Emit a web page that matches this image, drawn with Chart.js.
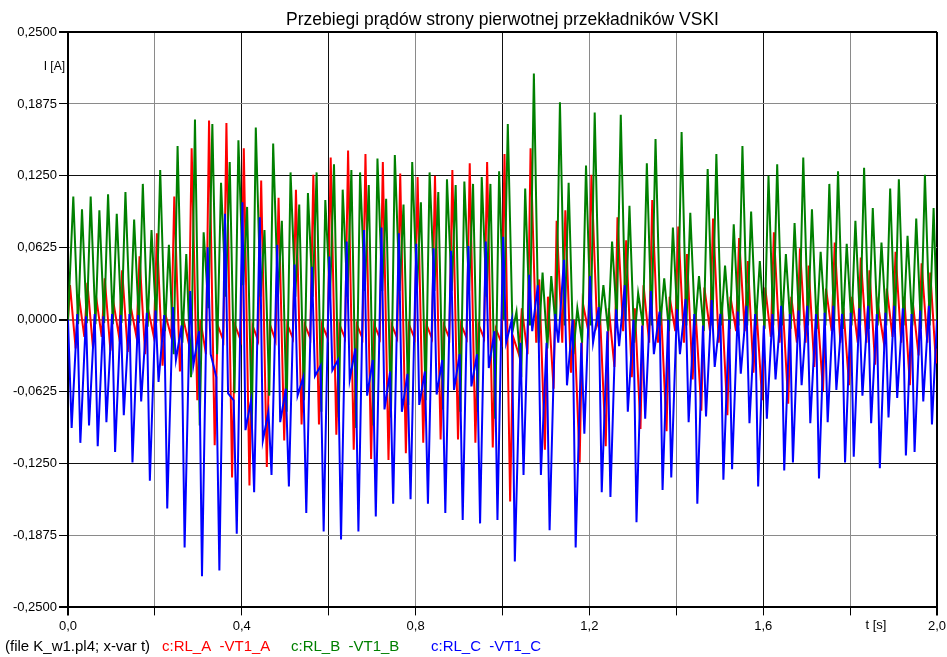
<!DOCTYPE html>
<html>
<head>
<meta charset="utf-8">
<script src="https://cdn.jsdelivr.net/npm/chart.js@4.4.0/dist/chart.umd.min.js"></script>
<style>
  html, body { margin: 0; padding: 0; background: #fff; }
  canvas { display: block; }
</style>
</head>
<body>
<canvas id="pradyChart" width="947" height="657"></canvas>
<script>
// one 50 Hz cycle, every series has one max and one min read per cycle
const period = 0.02;
const yTicks = [-0.25, -0.1875, -0.125, -0.0625, 0, 0.0625, 0.125, 0.1875, 0.25];
const xTicks = [0, 0.2, 0.4, 0.6, 0.8, 1.0, 1.2, 1.4, 1.6, 1.8, 2.0];

// c:RL_A -VT1_A (red)
const redHi = [
  0.030, 0.022, 0.032, 0.020, 0.036, 0.015, 0.043, 0.011, 0.055, 0.009,
  0.075, 0.004, 0.107, 0.002, 0.149, 0.000, 0.173, -0.005, 0.171, -0.005,
  0.149, -0.005, 0.121, -0.004, 0.106, -0.004, 0.113, -0.004, 0.126, -0.004,
  0.141, -0.004, 0.147, -0.004, 0.144, -0.004, 0.137, -0.004, 0.127, -0.004,
  0.124, -0.004, 0.125, -0.004, 0.130, -0.004, 0.136, -0.004, 0.137, -0.008,
  0.144, -0.015, 0.010, 0.149, 0.035, 0.020, 0.086, 0.095, 0.000, 0.015,
  0.126, 0.003, 0.010, 0.089, 0.069, 0.010, 0.030, 0.104, 0.010, 0.020,
  0.081, 0.057, 0.005, 0.028, 0.088, 0.015, 0.020, 0.071, 0.051, 0.008,
  0.028, 0.076, 0.015, 0.020, 0.062, 0.047, 0.010, 0.027, 0.067, 0.010,
  0.020, 0.054, 0.043, 0.012, 0.027, 0.059, 0.020, 0.014, 0.049, 0.041
];
const redLo = [
  -0.025, -0.015, -0.025, -0.015, -0.027, -0.015, -0.028, -0.015, -0.030, -0.015,
  -0.040, -0.015, -0.045, -0.020, -0.070, -0.030, -0.109, -0.018, -0.137, -0.018,
  -0.144, -0.018, -0.128, -0.018, -0.105, -0.016, -0.091, -0.016, -0.091, -0.016,
  -0.100, -0.016, -0.113, -0.016, -0.121, -0.016, -0.122, -0.016, -0.116, -0.016,
  -0.107, -0.016, -0.104, -0.016, -0.104, -0.016, -0.107, -0.016, -0.111, -0.020,
  -0.158, -0.030, -0.030, -0.020, -0.113, -0.060, -0.020, -0.046, -0.124, -0.010,
  -0.005, -0.110, -0.041, -0.010, -0.050, -0.095, -0.020, -0.020, -0.097, -0.010,
  -0.020, -0.052, -0.079, -0.010, -0.020, -0.083, -0.010, -0.010, -0.046, -0.070,
  -0.015, -0.020, -0.073, -0.020, -0.020, -0.041, -0.062, -0.010, -0.020, -0.057,
  -0.020, -0.020, -0.039, -0.020, -0.015, -0.020, -0.057, -0.031, -0.020, -0.038
];

// c:RL_B -VT1_B (green)
const greenHi = [
  0.107, 0.096, 0.107, 0.095, 0.109, 0.092, 0.111, 0.087, 0.118, 0.078,
  0.130, 0.065, 0.151, 0.057, 0.174, 0.076, 0.170, 0.119, 0.137, 0.156,
  0.098, 0.167, 0.078, 0.153, 0.086, 0.128, 0.100, 0.110, 0.128, 0.104,
  0.135, 0.113, 0.130, 0.128, 0.117, 0.140, 0.105, 0.143, 0.100, 0.137,
  0.102, 0.128, 0.111, 0.122, 0.117, 0.120, 0.118, 0.124, 0.118, 0.129,
  0.170, 0.007, 0.114, 0.214, 0.041, 0.038, 0.189, 0.119, 0.010, 0.134,
  0.180, 0.030, 0.068, 0.178, 0.099, 0.023, 0.136, 0.157, 0.036, 0.080,
  0.163, 0.093, 0.038, 0.131, 0.144, 0.047, 0.083, 0.151, 0.094, 0.051,
  0.125, 0.135, 0.057, 0.084, 0.141, 0.096, 0.059, 0.118, 0.129, 0.066,
  0.086, 0.132, 0.097, 0.067, 0.114, 0.122, 0.073, 0.088, 0.126, 0.097
];
const greenLo = [
  -0.004, -0.003, -0.004, -0.003, -0.004, -0.003, -0.005, -0.003, -0.006, -0.003,
  -0.010, -0.030, -0.020, -0.050, -0.092, 0.010, -0.030, 0.020, -0.064, 0.030,
  -0.093, 0.020, -0.066, 0.020, -0.080, 0.020, -0.070, 0.020, -0.080, 0.020,
  -0.085, 0.020, -0.094, 0.025, -0.092, 0.025, -0.085, 0.025, -0.074, 0.025,
  -0.070, 0.025, -0.078, 0.025, -0.080, 0.025, -0.080, 0.020, -0.086, 0.000,
  -0.010, -0.050, -0.005, -0.020, -0.025, -0.010, -0.005, -0.030, -0.020, -0.005,
  -0.005, -0.010, 0.000, 0.000, -0.020, -0.005, -0.005, -0.005, -0.010, -0.005,
  -0.005, -0.005, -0.010, -0.005, -0.005, -0.008, -0.005, -0.005, -0.005, -0.008,
  -0.005, -0.005, -0.008, -0.005, -0.005, -0.008, -0.005, -0.005, -0.008, -0.005,
  -0.005, -0.008, -0.005, -0.005, -0.008, -0.005, -0.005, -0.008, -0.005, -0.005
];

// c:RL_C -VT1_C (blue)
const blueLo = [
  -0.094, -0.107, -0.092, -0.110, -0.089, -0.115, -0.083, -0.124, -0.071, -0.140,
  -0.054, -0.164, -0.035, -0.198, -0.040, -0.223, -0.030, -0.218, -0.064, -0.186,
  -0.096, -0.150, -0.105, -0.135, -0.089, -0.145, -0.066, -0.168, -0.049, -0.184,
  -0.044, -0.191, -0.052, -0.184, -0.066, -0.171, -0.078, -0.160, -0.080, -0.156,
  -0.074, -0.160, -0.065, -0.168, -0.061, -0.174, -0.058, -0.177, -0.042, -0.174,
  -0.020, -0.210, -0.135, -0.010, -0.135, -0.183, -0.020, -0.057, -0.198, -0.099,
  -0.020, -0.150, -0.154, -0.023, -0.080, -0.176, -0.086, -0.030, -0.148, -0.137,
  -0.030, -0.089, -0.160, -0.084, -0.041, -0.139, -0.130, -0.047, -0.090, -0.145,
  -0.086, -0.052, -0.131, -0.124, -0.057, -0.090, -0.138, -0.089, -0.061, -0.124,
  -0.119, -0.066, -0.090, -0.129, -0.085, -0.068, -0.118, -0.115, -0.071, -0.091
];
const blueHi = [
  0.005, 0.003, 0.005, 0.003, 0.005, 0.004, 0.005, 0.004, 0.006, 0.008,
  0.004, 0.011, -0.005, 0.025, -0.010, 0.063, -0.050, 0.092, -0.070, 0.102,
  -0.070, 0.089, -0.080, 0.065, -0.060, 0.048, -0.050, 0.046, -0.040, 0.055,
  -0.035, 0.068, -0.025, 0.078, -0.035, 0.080, -0.045, 0.075, -0.047, 0.066,
  -0.045, 0.062, -0.035, 0.060, -0.030, 0.064, -0.030, 0.068, -0.010, 0.072,
  0.000, -0.020, 0.039, 0.030, -0.020, 0.005, 0.052, 0.000, -0.020, 0.038,
  0.011, -0.010, 0.009, 0.030, 0.000, -0.005, 0.025, 0.007, 0.000, 0.009,
  0.018, 0.005, -0.005, 0.017, 0.005, 0.000, 0.007, 0.012, 0.005, -0.005,
  0.005, 0.012, 0.005, 0.008, 0.012, 0.005, 0.006, 0.012, 0.005, 0.006,
  0.010, 0.012, 0.005, 0.006, 0.012, 0.010, 0.005, 0.008, 0.012, 0.006
];

// where in the cycle the max / min sit, and the values at the two ends
const phase = { red: [0.0046, 0.0176], green: [0.0122, 0.0232], blue: [0.0214, 0.0084] };
const edge = { red: [0.0, -0.025], green: [0.0, 0.0], blue: [0.0, 0.0] };

function buildSeries(hi, lo, ph, ends) {
    const pts = [{ x: 0, y: ends[0] }];
    for (let k = 0; k < hi.length; k++) {
        pts.push({ x: k * period + ph[0], y: hi[k] });
        pts.push({ x: k * period + ph[1], y: lo[k] });
    }
    pts.sort((a, b) => a.x - b.x);
    const out = pts.filter(p => p.x < 2.0);
    out.push({ x: 2.0, y: ends[1] });
    return out;
}

const FONT = "'Liberation Sans', Arial, sans-serif";
const darkX = [0.4, 0.6, 1.0, 1.6];
const darkY = [0.125, -0.0625, -0.125];

const fmt = (v, d) => v.toFixed(d).replace('.', ',');
const near = (a, b) => Math.abs(a - b) < 1e-6;

const textPlugin = {
    id: 'atpTexts',
    afterDraw(chart) {
        const { ctx, chartArea } = chart;
        ctx.save();
        ctx.fillStyle = '#000';
        ctx.font = '17.5px ' + FONT;
        ctx.textAlign = 'center';
        ctx.textBaseline = 'alphabetic';
        ctx.fillText('Przebiegi prądów strony pierwotnej przekładników VSKI', (chartArea.left + chartArea.right) / 2, 25);

        ctx.font = '12px ' + FONT;
        ctx.textAlign = 'right';
        ctx.textBaseline = 'middle';
        ctx.fillText('I [A]', 65, 67);

        ctx.textAlign = 'center';
        ctx.font = '13px ' + FONT;
        ctx.fillText('t [s]', 876, 625);

        ctx.textAlign = 'left';
        ctx.font = '15px ' + FONT;
        ctx.fillText('(file K_w1.pl4; x-var t)', 5, 647);
        const starts = [162, 291, 431];
        chart.data.datasets.forEach((ds, i) => {
            ctx.fillStyle = ds.borderColor;
            ctx.fillText(ds.label, starts[i], 647);
        });
        ctx.restore();
    }
};

const ctx = document.getElementById('pradyChart').getContext('2d');
new Chart(ctx, {
    type: 'line',
    data: {
        datasets: [
            { label: 'c:RL_A  -VT1_A', data: buildSeries(redHi, redLo, phase.red, edge.red), borderColor: '#ff0000', order: 2 },
            { label: 'c:RL_B  -VT1_B', data: buildSeries(greenHi, greenLo, phase.green, edge.green), borderColor: '#008000', order: 1 },
            { label: 'c:RL_C  -VT1_C', data: buildSeries(blueHi, blueLo, phase.blue, edge.blue), borderColor: '#0000ff', order: 0 }
        ].map(ds => Object.assign(ds, { borderWidth: 2, pointRadius: 0, tension: 0, fill: false }))
    },
    options: {
        responsive: false,
        animation: false,
        events: [],
        layout: { padding: { top: 32, right: 10, bottom: 20, left: 0 } },
        plugins: {
            legend: { display: false },
            title: { display: false },
            tooltip: { enabled: false }
        },
        scales: {
            x: {
                type: 'linear',
                min: 0,
                max: 2.0,
                afterBuildTicks: (scale) => { scale.ticks = xTicks.map(v => ({ value: v })); },
                afterFit: (scale) => { scale.paddingRight = 0; scale.paddingLeft = 0; },
                ticks: {
                    autoSkip: false,
                    maxRotation: 0,
                    padding: 3,
                    color: '#000',
                    font: { family: FONT, size: 13 },
                    callback: (v) => {
                        const r = Math.round(v * 10) / 10;
                        return near(r % 0.4, 0) || near(r % 0.4, 0.4) ? fmt(r, 1) : '';
                    }
                },
                grid: {
                    drawTicks: true,
                    tickLength: 8,
                    tickColor: '#000',
                    color: (c) => {
                        const v = c.tick ? c.tick.value : 0;
                        if (near(v, 2.0) || near(v, 0)) return '#000';
                        return darkX.some(d => near(d, v)) ? '#111' : '#8a8a8a';
                    },
                    lineWidth: (c) => (c.tick && (near(c.tick.value, 2.0) || near(c.tick.value, 0))) ? 2 : 1
                },
                border: { display: true, color: '#000', width: 2 }
            },
            y: {
                min: -0.25,
                max: 0.25,
                afterBuildTicks: (scale) => { scale.ticks = yTicks.map(v => ({ value: v })); },
                afterFit: (scale) => { scale.width = 68; },
                ticks: {
                    autoSkip: false,
                    padding: 2,
                    color: '#000',
                    font: { family: FONT, size: 13 },
                    callback: (v) => fmt(v, 4)
                },
                grid: {
                    drawTicks: true,
                    tickLength: 9,
                    tickColor: '#000',
                    color: (c) => {
                        const v = c.tick ? c.tick.value : 0;
                        if (near(v, 0.25) || near(v, -0.25)) return '#000';
                        if (near(v, 0)) return '#7a7a7a';
                        return darkY.some(d => near(d, v)) ? '#111' : '#8a8a8a';
                    },
                    lineWidth: (c) => {
                        const v = c.tick ? c.tick.value : 0;
                        return (near(v, 0.25) || near(v, -0.25) || near(v, 0)) ? 2 : 1;
                    }
                },
                border: { display: true, color: '#000', width: 2 }
            }
        }
    },
    plugins: [textPlugin]
});
</script>
</body>
</html>
